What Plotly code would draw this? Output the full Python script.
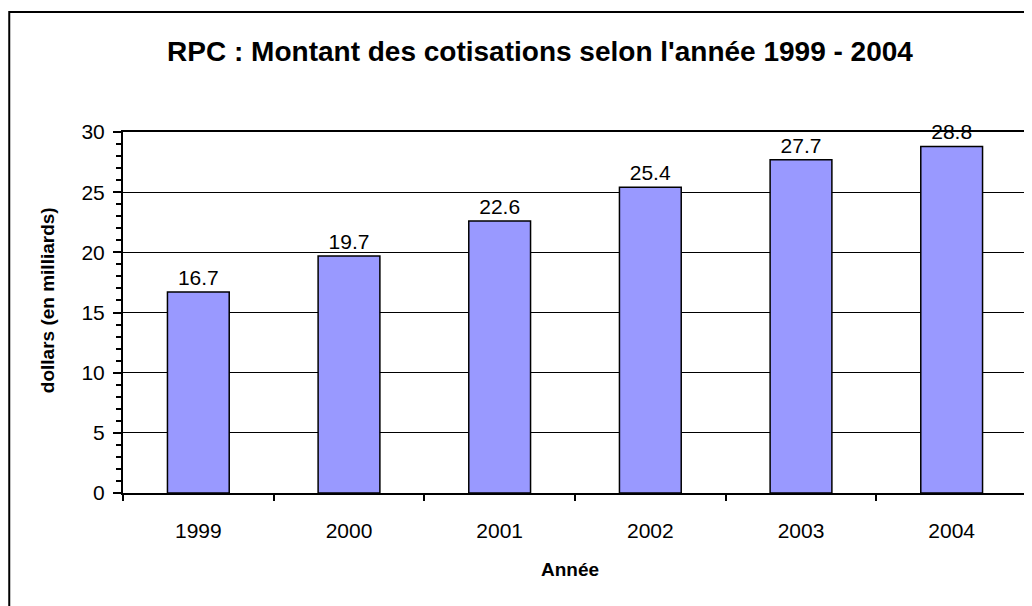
import plotly.graph_objects as go

years = ["1999", "2000", "2001", "2002", "2003", "2004"]
values = [16.7, 19.7, 22.6, 25.4, 27.7, 28.8]
labels = ["16.7", "19.7", "22.6", "25.4", "27.7", "28.8"]
y_ticks = [0, 5, 10, 15, 20, 25, 30]

# page has an 8px body margin; work in figure coordinates
OFF = 8
W, H = 1024, 598
L, R, T, B = 123 - OFF, 1029 - OFF, 132 - OFF, 493 - OFF  # plot area in figure pixels
pw, ph = R - L, B - T

def px_x(x):
    return (x - OFF - L) / pw

def px_y(y):
    return (B - (y - OFF)) / ph

FONT = "Liberation Sans, Arial, sans-serif"

fig = go.Figure()
fig.add_trace(go.Bar(
    x=years, y=values, text=labels, textposition="outside",
    textfont=dict(family=FONT, size=21, color="black"),
    marker=dict(color="#9999FF", line=dict(color="black", width=1.5)),
    cliponaxis=False,
))

fig.update_layout(
    width=W, height=H,
    margin=dict(l=L, r=W - R, t=T, b=H - B),
    paper_bgcolor="white", plot_bgcolor="white",
    bargap=0.59,
    showlegend=False,
    font=dict(family=FONT, color="black"),
    title=dict(
        text="<b>RPC : Montant des cotisations selon l'année 1999 - 2004</b>",
        font=dict(family=FONT, size=28, color="black"),
        xref="container", yref="container",
        x=(540 - OFF) / W, xanchor="center", y=1 - (51 - OFF) / H, yanchor="middle",
    ),
)

fig.update_yaxes(
    range=[0, 30], tickvals=y_ticks, ticktext=[str(v) for v in y_ticks],
    showgrid=True, gridcolor="black", gridwidth=1,
    showline=True, linecolor="black", linewidth=2, mirror=True,
    ticks="outside", ticklen=8, tickwidth=2, tickcolor="black",
    minor=dict(dtick=1, ticks="outside", ticklen=5, tickwidth=1.5, tickcolor="black", showgrid=False),
    tickfont=dict(family=FONT, size=21, color="black"),
    ticklabelstandoff=4,
    zeroline=False, fixedrange=True,
)
fig.update_xaxes(
    showgrid=False,
    showline=True, linecolor="black", linewidth=2, mirror=True,
    ticks="outside", tickson="boundaries", ticklen=6, tickwidth=1.5, tickcolor="black",
    tickfont=dict(family=FONT, size=21, color="black"),
    ticklabelstandoff=18,
    fixedrange=True,
)

# axis titles
fig.add_annotation(
    text="<b>dollars (en milliards)</b>", textangle=-90,
    xref="paper", yref="paper", x=px_x(47), y=px_y(300),
    xanchor="center", yanchor="middle", showarrow=False,
    font=dict(family=FONT, size=19, color="black"),
)
fig.add_annotation(
    text="<b>Année</b>",
    xref="paper", yref="paper", x=px_x(571), y=px_y(569),
    xanchor="center", yanchor="middle", showarrow=False,
    font=dict(family=FONT, size=19, color="black"),
)

# outer chart frame
fig.add_shape(
    type="rect", xref="paper", yref="paper",
    x0=px_x(9), x1=px_x(1050), y0=px_y(640), y1=px_y(12),
    line=dict(color="black", width=2), layer="below",
)

fig.write_html("out.html")
